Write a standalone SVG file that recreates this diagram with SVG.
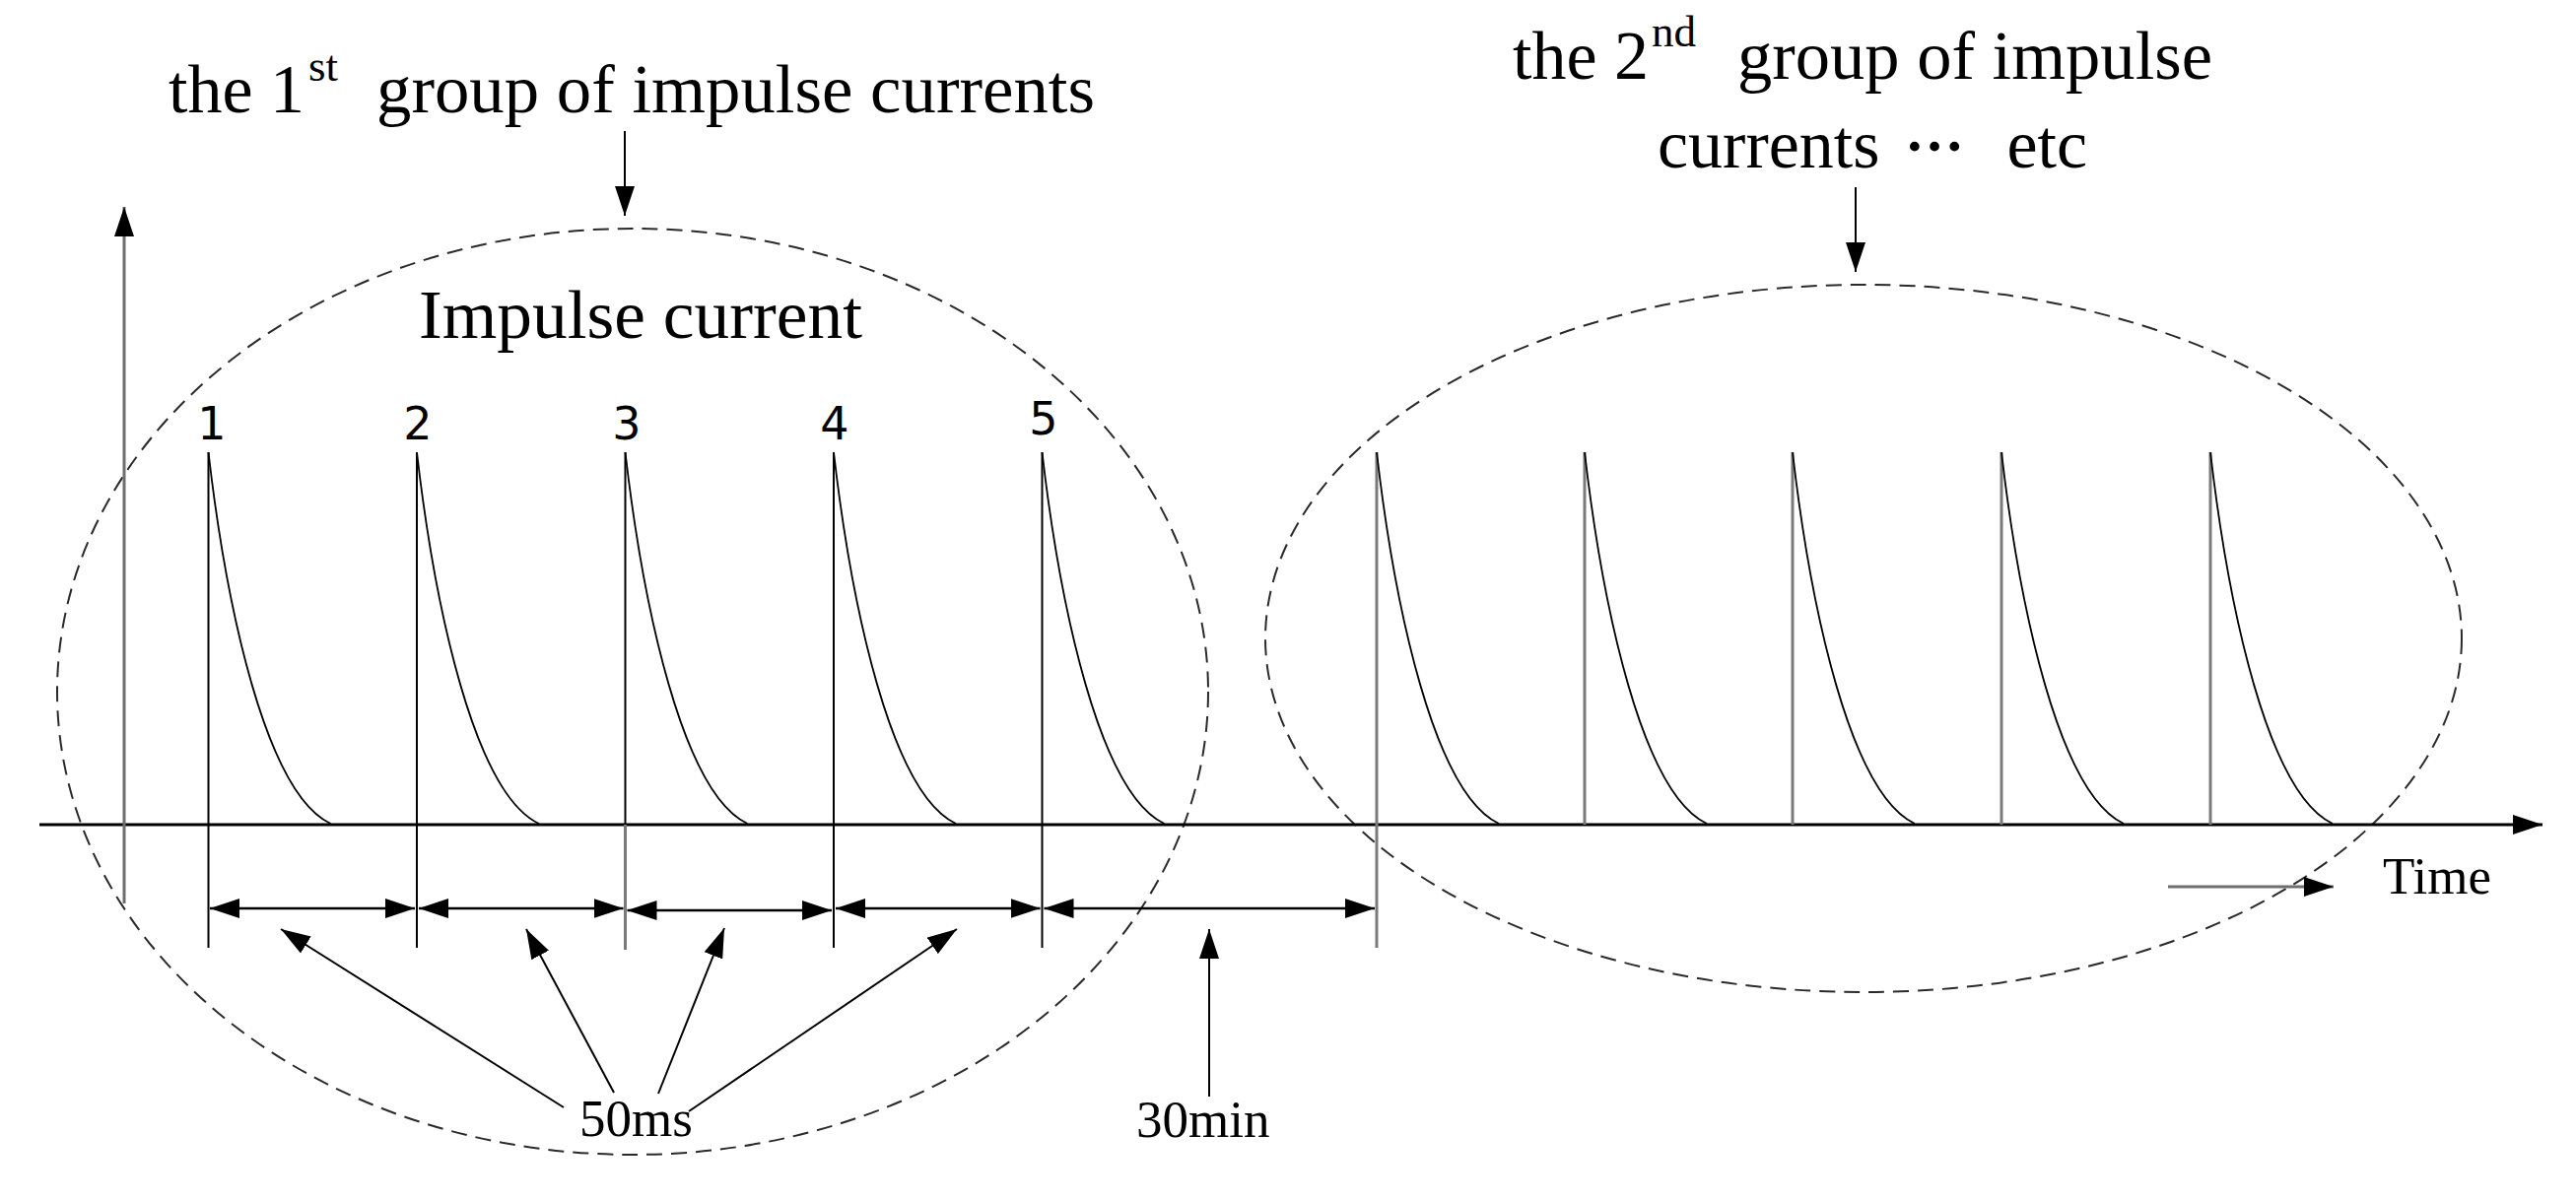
<svg xmlns="http://www.w3.org/2000/svg" width="2614" height="1219" viewBox="0 0 2614 1219">
<style>
.serif{font-family:"Liberation Serif","Times New Roman",serif;fill:#000}
.t70{font-size:70px}
.t52{font-size:53px}
.sup{font-size:45px}
.num{font-family:"DejaVu Sans","Liberation Sans",sans-serif;font-size:46px;fill:#000;text-anchor:middle}
.ln{stroke:#000;stroke-width:2;fill:none}
.gl{stroke:#7a7a7a;stroke-width:3;fill:none}
.dec{stroke:#000;stroke-width:1.8;fill:none}
.ell{stroke:#2a2a2a;stroke-width:2;fill:none;stroke-dasharray:16 9}
.arr{stroke:#000;stroke-width:2;fill:none;marker-end:url(#ah)}
.dbl{stroke:#000;stroke-width:2.5;fill:none;marker-end:url(#ah);marker-start:url(#ahs)}
</style>
<defs>
<marker id="ah" viewBox="0 0 30 20" markerWidth="30" markerHeight="20" refX="30" refY="10" orient="auto" markerUnits="userSpaceOnUse"><path d="M0,0 L30,10 L0,20 z" fill="#000"/></marker>
<marker id="ahs" viewBox="0 0 30 20" markerWidth="30" markerHeight="20" refX="30" refY="10" orient="auto-start-reverse" markerUnits="userSpaceOnUse"><path d="M0,0 L30,10 L0,20 z" fill="#000"/></marker>
</defs>
<rect width="2614" height="1219" fill="#fff"/>

<g id="ellipses">
<ellipse id="group1-ellipse" cx="642" cy="702" rx="584" ry="470" class="ell"/>
<ellipse id="group2-ellipse" cx="1891" cy="648" rx="607" ry="359" class="ell"/>
</g>

<g id="axes">
<line id="x-axis" x1="40" y1="837" x2="2580" y2="837" stroke="#000" stroke-width="3" marker-end="url(#ah)"/>
<line id="y-axis" x1="126" y1="917" x2="126" y2="210" stroke="#6e6e6e" stroke-width="3" marker-end="url(#ah)"/>
</g>

<g id="group1-pulses">
<g id="pulse1"><line x1="211.5" y1="459" x2="211.5" y2="962" class="ln"/><path d="M211.5,459 C229.5,615 269.5,805 335.5,836" class="dec"/></g>
<g id="pulse2"><line x1="423" y1="459" x2="423" y2="962" class="ln"/><path d="M423,459 C441,615 481,805 547,836" class="dec"/></g>
<g id="pulse3"><line x1="634.5" y1="459" x2="634.5" y2="837" class="ln"/><line x1="634.5" y1="837" x2="634.5" y2="964" class="gl"/><path d="M634.5,459 C652.5,615 692.5,805 758.5,836" class="dec"/></g>
<g id="pulse4"><line x1="846" y1="459" x2="846" y2="962" class="ln"/><path d="M846,459 C864,615 904,805 970,836" class="dec"/></g>
<g id="pulse5"><line x1="1057.5" y1="459" x2="1057.5" y2="962" class="ln"/><path d="M1057.5,459 C1075.5,615 1115.5,805 1181.5,836" class="dec"/></g>
</g>

<g id="group2-pulses">
<g id="pulse2-1"><line x1="1397" y1="459" x2="1397" y2="962" class="gl"/><path d="M1397,459 C1415,615 1455,805 1521,836" class="dec"/></g>
<g id="pulse2-2"><line x1="1608" y1="459" x2="1608" y2="837" class="gl"/><path d="M1608,459 C1626,615 1666,805 1732,836" class="dec"/></g>
<g id="pulse2-3"><line x1="1819" y1="459" x2="1819" y2="837" class="gl"/><path d="M1819,459 C1837,615 1877,805 1943,836" class="dec"/></g>
<g id="pulse2-4"><line x1="2031" y1="459" x2="2031" y2="837" class="gl"/><path d="M2031,459 C2049,615 2089,805 2155,836" class="dec"/></g>
<g id="pulse2-5"><line x1="2243" y1="459" x2="2243" y2="837" class="gl"/><path d="M2243,459 C2261,615 2301,805 2367,836" class="dec"/></g>
</g>

<g id="labels">
<g id="title1"><text class="serif t70" y="114"><tspan x="171">the 1</tspan><tspan x="313" y="82" class="sup">st</tspan><tspan x="382" y="114" textLength="729" lengthAdjust="spacingAndGlyphs">group of impulse currents</tspan></text></g>
<g id="title2"><text class="serif t70" y="80"><tspan x="1535">the 2</tspan><tspan x="1676" y="47" class="sup">nd</tspan><tspan x="1763" y="80" textLength="482" lengthAdjust="spacingAndGlyphs">group of impulse</tspan></text>
<text class="serif t70" y="170"><tspan x="1682">currents </tspan><tspan x="1933" y="153" font-weight="bold" font-size="60">…</tspan><tspan x="2019" y="170"> etc</tspan></text></g>
<text id="impulse-current" class="serif t70" x="425" y="343" textLength="450" lengthAdjust="spacingAndGlyphs">Impulse current</text>
<g id="pulse-numbers">
<text class="num" x="215" y="446">1</text>
<text class="num" x="424" y="446">2</text>
<text class="num" x="636" y="446">3</text>
<text class="num" x="847" y="446">4</text>
<text class="num" x="1059" y="441">5</text>
</g>
<text id="label-50ms" class="serif t52" x="588" y="1153">50ms</text>
<text id="label-30min" class="serif t52" x="1153" y="1154">30min</text>
<text id="label-time" class="serif t52" x="2418" y="907">Time</text>
</g>

<g id="connectors">
<line x1="634" y1="133" x2="634" y2="219" class="arr"/>
<line x1="1883" y1="190" x2="1883" y2="276" class="arr"/>
<line x1="213" y1="922" x2="421" y2="922" class="dbl"/>
<line x1="425" y1="922" x2="632.5" y2="922" class="dbl"/>
<line x1="636.5" y1="924" x2="844" y2="924" class="dbl"/>
<line x1="848" y1="922" x2="1055.5" y2="922" class="dbl"/>
<line x1="1059.5" y1="922" x2="1395" y2="922" class="dbl"/>
<line x1="572" y1="1124" x2="285" y2="943" class="arr"/>
<line x1="623" y1="1109" x2="534" y2="943" class="arr"/>
<line x1="668" y1="1110" x2="735" y2="942" class="arr"/>
<line x1="699" y1="1128" x2="971" y2="943" class="arr"/>
<line x1="1227" y1="1113" x2="1227" y2="943" class="arr"/>
<line x1="2200" y1="900" x2="2368" y2="900" stroke="#6e6e6e" stroke-width="3" marker-end="url(#ah)"/>
</g>
</svg>
